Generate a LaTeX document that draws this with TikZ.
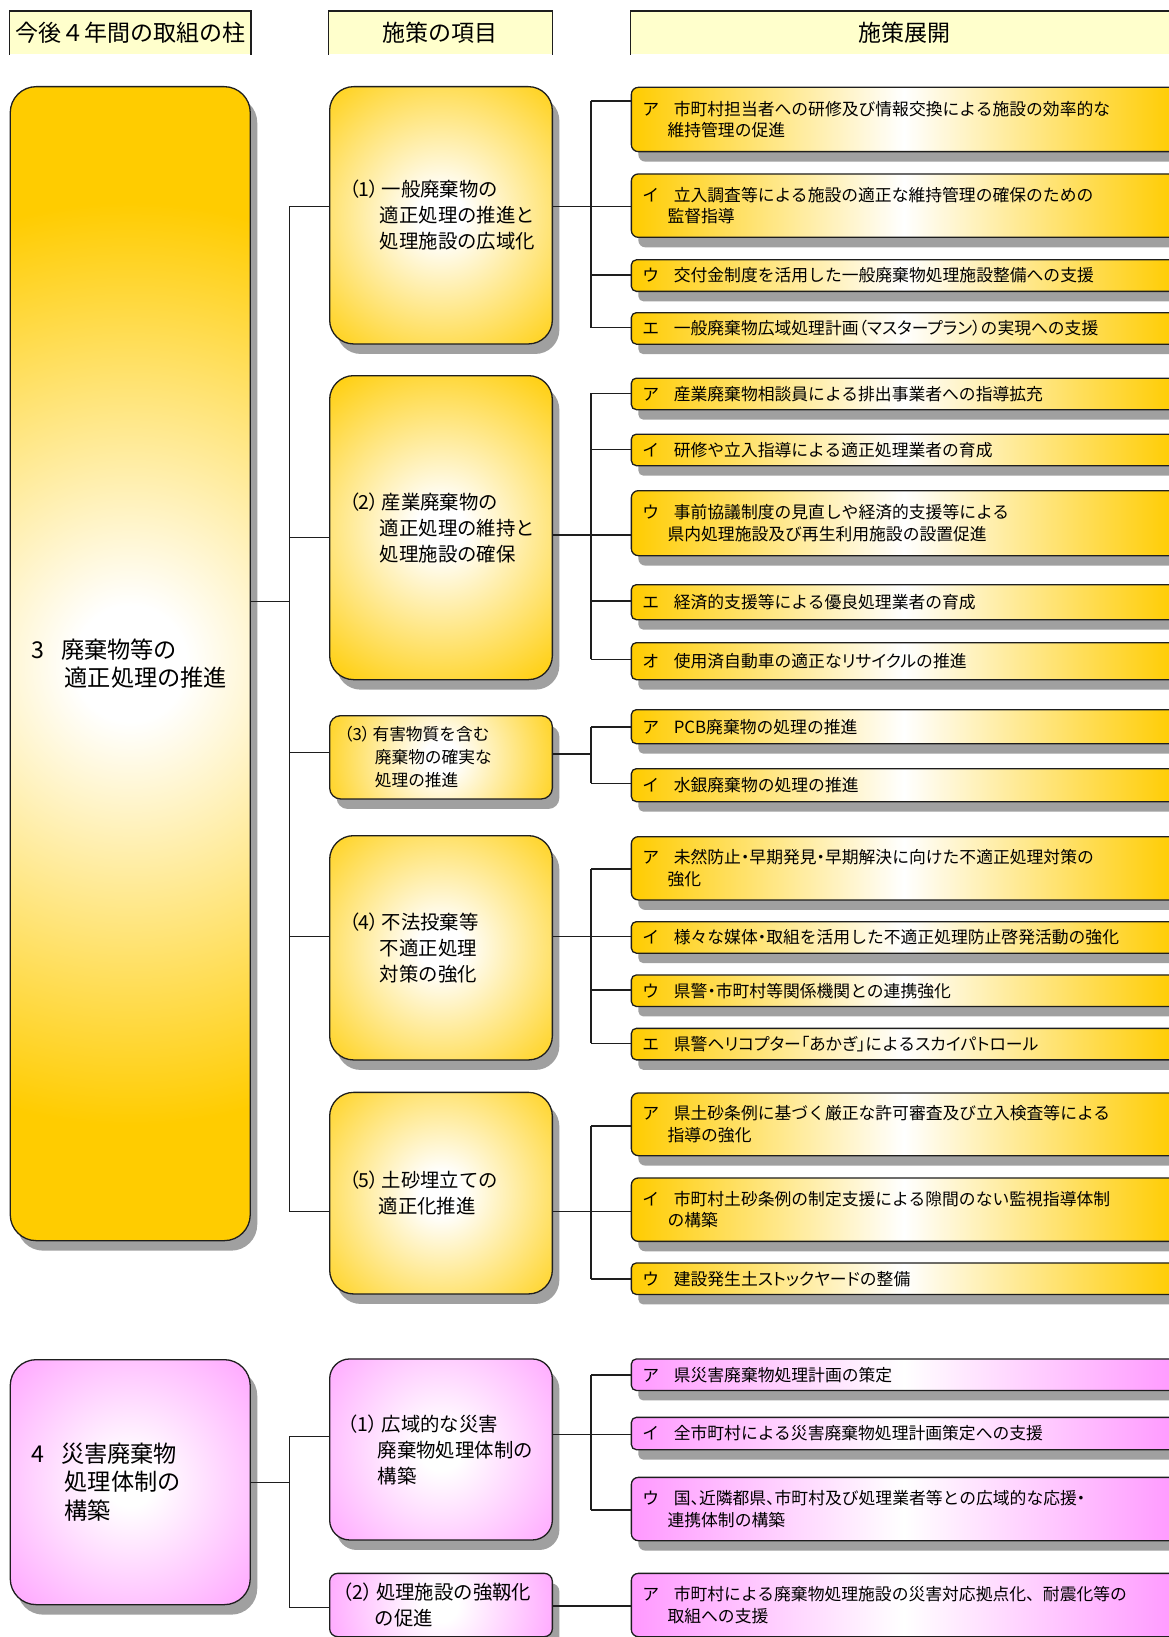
\documentclass[tikz,border=0pt]{standalone}
\usepackage{fontspec}
\setmainfont{Noto Sans CJK JP}
\usetikzlibrary{shadows}
\definecolor{ygold}{RGB}{255,204,0}
\definecolor{pk}{RGB}{255,153,255}
\definecolor{hdrfill}{RGB}{255,255,204}
\definecolor{lnc}{RGB}{30,30,30}
\definecolor{shc}{RGB}{160,160,160}
\pgfdeclareradialshading{yradsh}{\pgfpoint{0bp}{0bp}}{color(0bp)=(white); color(2.5bp)=(white); color(20bp)=(ygold); color(50bp)=(ygold)}
\pgfdeclareradialshading{pradsh}{\pgfpoint{0bp}{0bp}}{color(0bp)=(white); color(2.5bp)=(white); color(20bp)=(pk); color(50bp)=(pk)}
\newcommand{\mypfx}[2]{\makebox[#1][l]{#2}}
\newcommand{\pp}[1]{{\addfontfeature{RawFeature=+palt}#1}}
\begin{document}
\begin{tikzpicture}[x=1pt,y=-1pt,
  base/.style={anchor=north west, draw=lnc, line width=1.3pt, inner ysep=2pt, drop shadow={shadow xshift=7pt,shadow yshift=-10pt,fill=shc,opacity=1}},
  yr/.style={fill=ygold, path picture={\shade[shading=yradsh] (path picture bounding box.center) circle (#1);}},
  pr/.style={fill=pk, path picture={\shade[shading=pradsh] (path picture bounding box.center) circle (#1);}},
  big/.style={base, minimum width=240pt, inner xsep=21pt, text width=198pt, rounded corners=26pt, align=left, font=\fontsize{23.2}{28.7}\selectfont},
  mid/.style={base, minimum width=222.7pt, inner xsep=19.5pt, text width=183.7pt, rounded corners=24pt, align=left, font=\fontsize{19.4}{26}\selectfont},
  rt/.style={base, minimum width=545pt, minimum height=31.5pt, inner xsep=11pt, text width=523pt, rounded corners=5pt, align=left, font=\fontsize{16.8}{21.7}\selectfont},
  ry/.style={rt, left color=ygold, right color=ygold, middle color=white},
  rp/.style={rt, left color=pk, right color=pk, middle color=white},
  two/.style={minimum height=#1, rounded corners=7pt},
  hdr/.style={anchor=north west, fill=hdrfill, minimum height=43.3pt, inner sep=0pt, font=\fontsize{23}{28}\selectfont},
  hline/.style={draw=lnc, line width=1.3pt},
  conn/.style={draw=lnc, line width=1.2pt}
]
\useasboundingbox (0,0) rectangle (1168,1637);

% headers
\node[hdr, minimum width=241.1pt] (H1) at (9.6,11) {今後４年間の取組の柱};
\node[hdr, minimum width=223.6pt] (H2) at (328.4,11) {施策の項目};
\node[hdr, minimum width=548pt] (H3) at (630.5,11) {施策展開};
\draw[hline] (H1.south west) -- (H1.north west) -- (H1.north east) -- (H1.south east);
\draw[hline] (H2.south west) -- (H2.north west) -- (H2.north east) -- (H2.south east);
\draw[hline] (H3.south west) -- (H3.north west) -- (H3.north east) -- (H3.south east);

% pillars
\node[big, yr=560pt, minimum height=1154pt] (B3) at (9.6,86) {\mypfx{1.29em}{3}廃棄物等の\\\hspace*{1.44em}適正処理の推進};
\node[big, pr=240pt, minimum height=245pt] (B4) at (9.6,1359) {\mypfx{1.29em}{4}災害廃棄物\\\hspace*{1.44em}処理体制の\\\hspace*{1.44em}構築};

% items
\node[mid, yr=230pt, minimum height=257.3pt] (M1) at (329,86) {\mypfx{1.68em}{\pp{（1）}}一般廃棄物の\\\hspace*{1.58em}適正処理の推進と\\\hspace*{1.58em}処理施設の広域化};
\node[mid, yr=240pt, minimum height=304pt] (M2) at (329,375) {\mypfx{1.68em}{\pp{（2）}}産業廃棄物の\\\hspace*{1.58em}適正処理の維持と\\\hspace*{1.58em}処理施設の確保};
\node[mid, yr=170pt, minimum height=83.3pt, rounded corners=11pt, inner xsep=14.5pt, text width=193.7pt, font=\fontsize{16.7}{23}\selectfont] (M3) at (329,715) {\mypfx{1.7em}{\pp{（3）}}有害物質を含む\\\hspace*{1.84em}廃棄物の確実な\\\hspace*{1.84em}処理の推進};
\node[mid, yr=220pt, minimum height=224.3pt] (M4) at (329,835) {\mypfx{1.68em}{\pp{（4）}}不法投棄等\\\hspace*{1.58em}不適正処理\\\hspace*{1.58em}対策の強化};
\node[mid, yr=215pt, minimum height=201.6pt] (M5) at (329,1091.7) {\mypfx{1.68em}{\pp{（5）}}土砂埋立ての\\\hspace*{1.52em}適正化推進};
\node[mid, pr=210pt, minimum height=181pt, rounded corners=20pt, inner xsep=18pt, text width=186.7pt] (N1) at (329,1358.3) {\mypfx{1.75em}{\pp{（1）}}広域的な災害\\\hspace*{1.55em}廃棄物処理体制の\\\hspace*{1.55em}構築};
\node[mid, pr=170pt, minimum height=63.3pt, rounded corners=8pt, inner xsep=13pt, text width=196.7pt, font=\fontsize{19.4}{26.6}\selectfont] (N2) at (329,1572.7) {\mypfx{1.72em}{\pp{（2）}}処理施設の強靱化\\\hspace*{1.65em}の促進};

% measures
\node[ry, two=64.3pt] (S1a) at (630.7,86.7) {\mypfx{1.875em}{ア}市町村担当者への研修及び情報交換による施設の効率的な\\\hspace*{1.5em}維持管理の促進};
\node[ry, two=63.4pt] (S1b) at (630.7,173.3) {\mypfx{1.875em}{イ}立入調査等による施設の適正な維持管理の確保のための\\\hspace*{1.5em}監督指導};
\node[ry] (S1c) at (630.7,259.2) {\mypfx{1.875em}{ウ}交付金制度を活用した一般廃棄物処理施設整備への支援};
\node[ry] (S1d) at (630.7,312) {\mypfx{1.875em}{エ}一般廃棄物広域処理計画\pp{（マスタープラン）}の実現への支援};

\node[ry] (S2a) at (630.7,377.5) {\mypfx{1.875em}{ア}産業廃棄物相談員による排出事業者への指導拡充};
\node[ry] (S2b) at (630.7,433.5) {\mypfx{1.875em}{イ}研修や立入指導による適正処理業者の育成};
\node[ry, two=65pt] (S2c) at (630.7,490) {\mypfx{1.875em}{ウ}事前協議制度の見直しや経済的支援等による\\\hspace*{1.5em}県内処理施設及び再生利用施設の設置促進};
\node[ry, minimum height=35pt] (S2d) at (630.7,584) {\mypfx{1.875em}{エ}経済的支援等による優良処理業者の育成};
\node[ry, minimum height=37pt] (S2e) at (630.7,642) {\mypfx{1.875em}{オ}使用済自動車の適正な\pp{リサイクル}の推進};

\node[ry, minimum height=34pt] (S3a) at (630.7,709) {\mypfx{1.875em}{ア}PCB廃棄物の処理の推進};
\node[ry, minimum height=33pt] (S3b) at (630.7,768) {\mypfx{1.875em}{イ}水銀廃棄物の処理の推進};

\node[ry, two=63.3pt] (S4a) at (630.7,836) {\mypfx{1.875em}{ア}未然防止\pp{・}早期発見\pp{・}早期解決に向けた不適正処理対策の\\\hspace*{1.5em}強化};
\node[ry] (S4b) at (630.7,921) {\mypfx{1.875em}{イ}様々な媒体\pp{・}取組を活用した不適正処理防止啓発活動の強化};
\node[ry] (S4c) at (630.7,974.3) {\mypfx{1.875em}{ウ}県警\pp{・}市町村等関係機関との連携強化};
\node[ry] (S4d) at (630.7,1027.7) {\mypfx{1.875em}{エ}県警\pp{ヘリコプター「あかぎ」}による\pp{スカイパトロール}};

\node[ry, two=62.7pt] (S5a) at (630.7,1092.3) {\mypfx{1.875em}{ア}県土砂条例に基づく厳正な許可審査及び立入検査等による\\\hspace*{1.5em}指導の強化};
\node[ry, two=63.4pt] (S5b) at (630.7,1177.3) {\mypfx{1.875em}{イ}市町村土砂条例の制定支援による隙間のない監視指導体制\\\hspace*{1.5em}の構築};
\node[ry] (S5c) at (630.7,1262.3) {\mypfx{1.875em}{ウ}建設発生土\pp{ストックヤード}の整備};

\node[rp] (T1a) at (630.7,1358.3) {\mypfx{1.875em}{ア}県災害廃棄物処理計画の策定};
\node[rp, minimum height=32.3pt] (T1b) at (630.7,1416.7) {\mypfx{1.875em}{イ}全市町村による災害廃棄物処理計画策定への支援};
\node[rp, two=63.3pt] (T1c) at (630.7,1476.7) {\mypfx{1.875em}{ウ}国\pp{、}近隣都県\pp{、}市町村及び処理業者等との広域的な応援\pp{・}\\\hspace*{1.5em}連携体制の構築};
\node[rp, two=63.3pt] (T2a) at (630.7,1572.7) {\mypfx{1.875em}{ア}市町村による廃棄物処理施設の災害対応拠点化、耐震化等の\\\hspace*{1.5em}取組への支援};

% connectors: pillar 3
\coordinate (L3) at (289.3,601.7);
\draw[conn] (B3.east |- L3) -- (L3);
\draw[conn] (289.3,206.7) -- (289.3,1211.7);
\foreach \n/\y in {M1/206.7, M2/537.7, M3/752.7, M4/936.7, M5/1211.7}
  \draw[conn] (289.3,\y) -- (\n.west |- 289.3,\y);

% section (1)
\draw[conn] (M1.east |- 0,206.7) -- (591,206.7);
\draw[conn] (591,101) -- (591,327.7);
\foreach \n/\y in {S1a/101, S1b/206.7, S1c/275, S1d/327.7}
  \draw[conn] (591,\y) -- (\n.west |- 591,\y);
% section (2)
\draw[conn] (M2.east |- 0,535) -- (591,535);
\draw[conn] (591,393.3) -- (591,659.3);
\foreach \n/\y in {S2a/393.3, S2b/449.3, S2c/535, S2d/601, S2e/659.3}
  \draw[conn] (591,\y) -- (\n.west |- 591,\y);
% section (3)
\draw[conn] (M3.east |- 0,754) -- (591,754);
\draw[conn] (591,727) -- (591,783.3);
\foreach \n/\y in {S3a/727, S3b/783.3}
  \draw[conn] (591,\y) -- (\n.west |- 591,\y);
% section (4)
\draw[conn] (M4.east |- 0,936.7) -- (591,936.7);
\draw[conn] (591,869) -- (591,1043.3);
\foreach \n/\y in {S4a/869, S4b/936.7, S4c/990, S4d/1043.3}
  \draw[conn] (591,\y) -- (\n.west |- 591,\y);
% section (5)
\draw[conn] (M5.east |- 0,1211.7) -- (591,1211.7);
\draw[conn] (591,1126) -- (591,1279);
\foreach \n/\y in {S5a/1126, S5b/1211.7, S5c/1279}
  \draw[conn] (591,\y) -- (\n.west |- 591,\y);

% pillar 4
\coordinate (L4) at (289.3,1482.3);
\draw[conn] (B4.east |- L4) -- (L4);
\draw[conn] (289.3,1436.7) -- (289.3,1607.3);
\foreach \n/\y in {N1/1436.7, N2/1607.3}
  \draw[conn] (289.3,\y) -- (\n.west |- 289.3,\y);
\draw[conn] (N1.east |- 0,1434.3) -- (591,1434.3);
\draw[conn] (591,1375) -- (591,1510);
\foreach \n/\y in {T1a/1375, T1b/1434.3, T1c/1510}
  \draw[conn] (591,\y) -- (\n.west |- 591,\y);
\draw[conn] (N2.east |- 0,1606) -- (T2a.west |- 0,1606);
\end{tikzpicture}
\end{document}
